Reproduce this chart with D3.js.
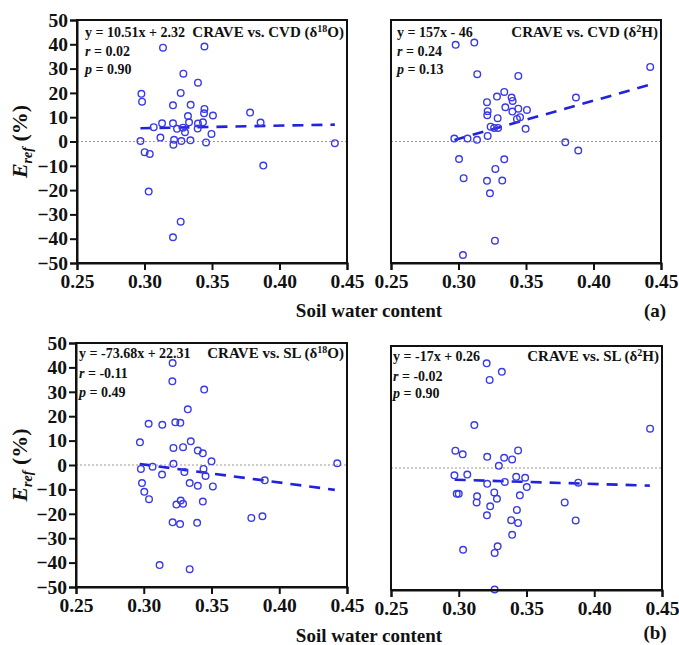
<!DOCTYPE html>
<html>
<head>
<meta charset="utf-8">
<script src="https://cdn.jsdelivr.net/npm/d3@7"></script>
<style>
  html, body { margin: 0; padding: 0; background: #fff; }
  svg { display: block; }
  text { font-family: "Liberation Serif", "Times New Roman", serif; font-weight: bold; fill: #111; }
</style>
</head>
<body>
<svg id="chart" width="679" height="645"></svg>
<script>
// Soil water content (x) vs. relative error E_ref in % (y), one list per comparison
const cvdO18 = [[0.2977,19.6],[0.2982,16.4],[0.2970,0.2],[0.3001,-4.4],[0.3039,-5.1],[0.3031,-20.6],[0.3068,5.9],[0.3137,38.6],[0.3130,7.5],[0.3118,1.6],[0.3211,14.9],[0.3211,7.5],[0.3214,-1.3],[0.3219,0.7],[0.3211,-39.4],[0.3241,5.2],[0.3288,27.9],[0.3268,20.0],[0.3268,-33.0],[0.3273,0.2],[0.3300,3.8],[0.3285,5.7],[0.3322,10.5],[0.3330,7.9],[0.3342,15.1],[0.3340,0.5],[0.3396,24.2],[0.3394,5.3],[0.3396,7.4],[0.3444,13.4],[0.3441,11.6],[0.3433,7.9],[0.3456,-0.4],[0.3496,3.1],[0.3507,10.7],[0.3444,39.1],[0.3782,11.9],[0.3860,7.8],[0.3880,-9.9],[0.4410,-0.7]];
const cvdH2 = [[0.2979,39.8],[0.3117,40.7],[0.3139,27.7],[0.3443,27.0],[0.3339,20.4],[0.3285,18.5],[0.3393,18.1],[0.3401,16.7],[0.3211,16.2],[0.3347,14.1],[0.3443,13.5],[0.3507,13.0],[0.3216,12.5],[0.3213,10.8],[0.3399,12.3],[0.3290,9.6],[0.3433,9.3],[0.3456,10.0],[0.3238,6.1],[0.3264,5.6],[0.3293,5.6],[0.3497,5.2],[0.3216,2.3],[0.2969,1.2],[0.3067,1.2],[0.3137,0.7],[0.3004,-7.2],[0.3339,-7.3],[0.3273,-11.3],[0.3038,-15.1],[0.3211,-16.2],[0.3324,-16.1],[0.3233,-21.3],[0.3270,-40.8],[0.3033,-46.7],[0.3791,-0.3],[0.3870,18.1],[0.3887,-3.7],[0.4420,30.7]];
const slO18 = [[0.3213,41.8],[0.3211,34.3],[0.3446,30.9],[0.3325,22.8],[0.3036,16.9],[0.3137,16.5],[0.3233,17.5],[0.3270,17.3],[0.2972,9.3],[0.3347,9.7],[0.3219,7.0],[0.3290,7.3],[0.3399,5.9],[0.3436,4.8],[0.3500,1.5],[0.3219,0.5],[0.3065,-0.7],[0.2979,-1.6],[0.3441,-1.6],[0.3300,-2.9],[0.3135,-3.9],[0.3456,-4.5],[0.2987,-7.4],[0.3339,-7.4],[0.3399,-8.5],[0.3510,-8.8],[0.3004,-11.0],[0.3039,-14.0],[0.3436,-15.0],[0.3273,-14.6],[0.3241,-16.2],[0.3290,-15.9],[0.3213,-23.5],[0.3268,-24.2],[0.3394,-23.7],[0.3117,-41.0],[0.3339,-42.7],[0.3794,-21.7],[0.3876,-21.0],[0.3893,-6.3],[0.4428,0.7]];
const slH2 = [[0.3206,42.9],[0.3318,39.4],[0.3228,36.1],[0.3115,17.6],[0.2975,7.1],[0.3029,5.6],[0.3210,4.6],[0.3438,7.2],[0.3335,4.2],[0.3394,3.5],[0.3296,0.9],[0.2968,-3.0],[0.3063,-2.7],[0.3424,-3.6],[0.3490,-4.0],[0.3210,-6.5],[0.3340,-5.7],[0.3502,-7.8],[0.2985,-10.6],[0.3000,-10.6],[0.3135,-11.6],[0.3132,-14.1],[0.3262,-10.0],[0.3282,-12.6],[0.3451,-11.2],[0.3232,-15.7],[0.3208,-19.4],[0.3429,-17.2],[0.3387,-21.4],[0.3438,-22.5],[0.3394,-27.4],[0.3032,-33.5],[0.3287,-32.1],[0.3265,-34.8],[0.3265,-49.8],[0.3782,-14.1],[0.3863,-21.5],[0.3882,-6.0],[0.4412,16.1]];

// Linear fits [slope, intercept] and statistics shown in each panel
const fits = [[10.51, 2.32], [157, -46], [-73.68, 22.31], [-17, 0.26]];
const fitLabels = ["y = 10.51x + 2.32", "y = 157x - 46", "y = -73.68x + 22.31", "y = -17x + 0.26"];
const rValues = ["0.02", "0.24", "-0.11", "-0.02"];
const pValues = ["0.90", "0.13", "0.49", "0.90"];
const titles = [["CRAVE vs. CVD (δ", "18", "O)"], ["CRAVE vs. CVD (δ", "2", "H)"],
                ["CRAVE vs. SL (δ", "18", "O)"], ["CRAVE vs. SL (δ", "2", "H)"]];
const fitRange = [0.297, 0.441];

const xTicks = [0.25, 0.30, 0.35, 0.40, 0.45];
const yTicks = [50, 40, 30, 20, 10, 0, -10, -20, -30, -40, -50];
const xDomain = [0.25, 0.45];
const yDomain = [-50, 50];

const svg = d3.select("#chart");
const BLUE = "#3a3ae6";
const LINE_BLUE = "#2222dd";

const panels = [
  { data: cvdO18, left: 77,  top: 20,  w: 270, h: 243, yAxis: true,  pad: 8, ann: [37, 56, 74] },
  { data: cvdH2,  left: 391, top: 20,  w: 270, h: 243, yAxis: false, pad: 6, ann: [37, 56, 74] },
  { data: slO18,  left: 76,  top: 343, w: 271, h: 244, yAxis: true,  pad: 3, ann: [358, 378, 397] },
  { data: slH2,   left: 391, top: 346, w: 271, h: 244, yAxis: false, pad: 2, ann: [361, 381, 398] }
];

panels.forEach((p, i) => {
  const x = d3.scaleLinear().domain(xDomain).range([p.left, p.left + p.w]);
  const y = d3.scaleLinear().domain(yDomain).range([p.top + p.h, p.top]);
  const g = svg.append("g");

  // zero reference line
  g.append("line")
    .attr("x1", x(xDomain[0])).attr("x2", x(xDomain[1]))
    .attr("y1", y(0)).attr("y2", y(0))
    .attr("stroke", "#9a9a9a").attr("stroke-width", 1.1)
    .attr("stroke-dasharray", "2,2");

  // regression line
  const [m, b] = fits[i];
  g.append("line")
    .attr("x1", x(fitRange[0])).attr("y1", y(m * fitRange[0] + b))
    .attr("x2", x(fitRange[1])).attr("y2", y(m * fitRange[1] + b))
    .attr("stroke", LINE_BLUE).attr("stroke-width", 2.6)
    .attr("stroke-dasharray", "11,8");

  // observations
  g.selectAll("circle.pt").data(p.data).join("circle")
    .attr("class", "pt")
    .attr("cx", d => x(d[0])).attr("cy", d => y(d[1]))
    .attr("r", 3.3)
    .attr("fill", "none").attr("stroke", BLUE).attr("stroke-width", 1.4);

  // frame
  g.append("rect")
    .attr("x", p.left).attr("y", p.top).attr("width", p.w).attr("height", p.h)
    .attr("fill", "none").attr("stroke", "#111").attr("stroke-width", 2);

  // bottom axis
  const xa = g.append("g").attr("transform", `translate(0,${p.top + p.h})`)
    .call(d3.axisBottom(x).tickValues(xTicks).tickFormat(d3.format(".2f")).tickSize(7).tickPadding(4));
  xa.select(".domain").attr("stroke", "#111").attr("stroke-width", 2);
  xa.selectAll(".tick line").attr("stroke", "#111").attr("stroke-width", 2);
  xa.selectAll(".tick text").style("font-size", "19.5px");

  if (p.yAxis) {
    const ya = g.append("g").attr("transform", `translate(${p.left},0)`)
      .call(d3.axisLeft(y).tickValues(yTicks).tickSize(7).tickPadding(2));
    ya.select(".domain").attr("stroke", "#111").attr("stroke-width", 2);
    ya.selectAll(".tick line").attr("stroke", "#111").attr("stroke-width", 2);
    ya.selectAll(".tick text").style("font-size", "19.5px");

    // y axis title: E_ref (%)
    const cy = p.top + p.h / 2;
    const t = g.append("text")
      .attr("transform", `translate(27,${cy}) rotate(-90)`)
      .attr("text-anchor", "middle").style("font-size", "22px");
    t.append("tspan").attr("font-style", "italic").text("E");
    t.append("tspan").attr("font-style", "italic").style("font-size", "14px").attr("dy", 5).text("ref");
    t.append("tspan").attr("dy", -5).text(" (%)");
  }

  // annotation block
  const ann = g.append("g").style("font-size", "14px");
  ann.append("text").attr("x", p.left + p.pad).attr("y", p.ann[0]).text(fitLabels[i]);
  const r = ann.append("text").attr("x", p.left + p.pad).attr("y", p.ann[1]);
  r.append("tspan").attr("font-style", "italic").text("r");
  r.append("tspan").text(" = " + rValues[i]);
  const pv = ann.append("text").attr("x", p.left + p.pad).attr("y", p.ann[2]);
  pv.append("tspan").attr("font-style", "italic").text("p");
  pv.append("tspan").text(" = " + pValues[i]);

  const tt = ann.append("text").attr("x", p.left + p.w - 3).attr("y", p.ann[0])
    .attr("text-anchor", "end").style("font-size", "15px");
  tt.append("tspan").text(titles[i][0]);
  tt.append("tspan").style("font-size", "10px").attr("dy", -5).text(titles[i][1]);
  tt.append("tspan").attr("dy", 5).text(titles[i][2]);
});

// x axis titles and panel tags
svg.append("text").attr("x", 369).attr("y", 317).attr("text-anchor", "middle")
  .style("font-size", "19px").text("Soil  water content");
svg.append("text").attr("x", 369).attr("y", 642).attr("text-anchor", "middle")
  .style("font-size", "19px").text("Soil  water content");
svg.append("text").attr("x", 655).attr("y", 317).attr("text-anchor", "middle")
  .style("font-size", "19px").text("(a)");
svg.append("text").attr("x", 655).attr("y", 639).attr("text-anchor", "middle")
  .style("font-size", "19px").text("(b)");
</script>
</body>
</html>
